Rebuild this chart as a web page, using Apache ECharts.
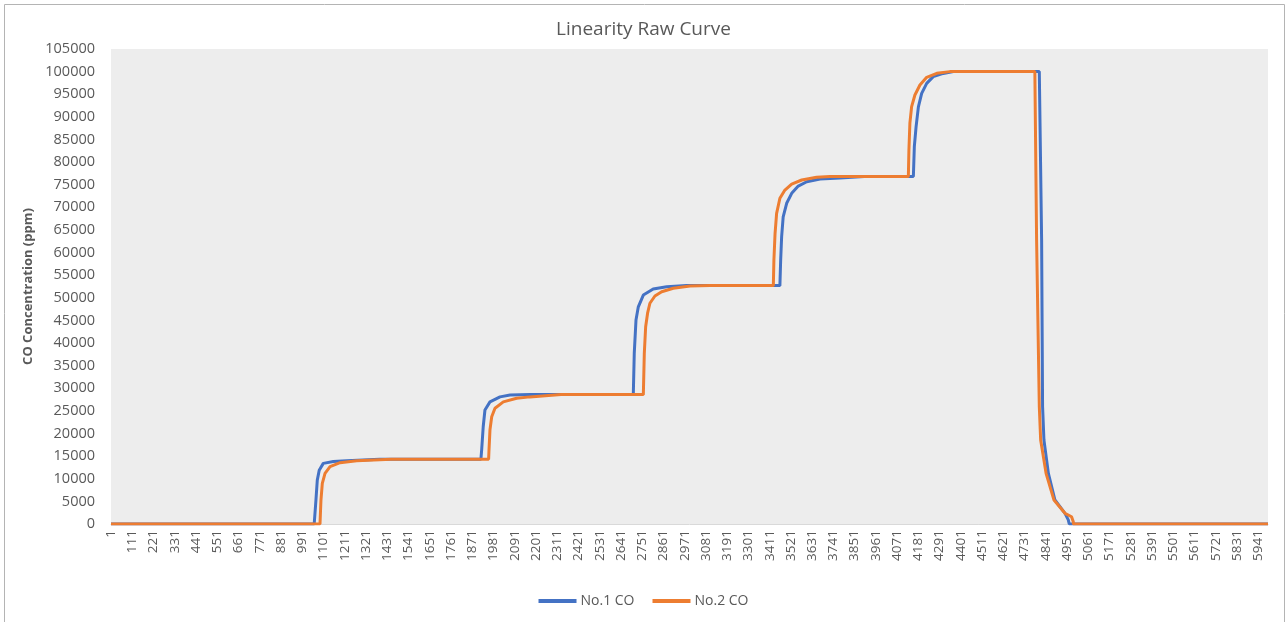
<!DOCTYPE html>
<html>
<head>
<meta charset="utf-8">
<script src="https://cdn.jsdelivr.net/npm/echarts@6/dist/echarts.min.js"></script>
<style>
  html, body { margin: 0; padding: 0; background: #fff; }
  #chart { width: 1287px; height: 622px; }
</style>
</head>
<body>
<div id="chart"></div>
<script>
// sample number (x) and CO concentration in ppm (y)
const no1Sample = [0, 1052, 1061, 1068, 1078, 1099, 1151, 1220, 1390,
  1915, 1919, 1927, 1936, 1962, 2014, 2066, 2170,
  2704, 2709, 2718, 2730, 2756, 2807, 2877, 2980,
  3463, 3467, 3472, 3480, 3498, 3524, 3558, 3602, 3671, 3774, 3900,
  4154, 4159, 4168, 4180, 4197, 4223, 4257, 4309, 4361,
  4806, 4818, 4823, 4830, 4853, 4887, 4939, 4956, 4961, 5990];
const no1CO = [0, 0, 5300, 9700, 11900, 13400, 13800, 14000, 14300,
  14300, 16400, 21500, 25200, 27000, 28100, 28500, 28600,
  28600, 37700, 45100, 48000, 50600, 51950, 52450, 52700,
  52700, 58350, 63500, 67900, 70900, 73100, 74700, 75650, 76250, 76500, 76800,
  76800, 83400, 87800, 92200, 95200, 97400, 98900, 99600, 100000,
  100000, 62780, 25930, 18570, 11200, 5300, 2360, 900, 0, 0];

const no2Sample = [0, 1082, 1087, 1094, 1108, 1134, 1186, 1272, 1450,
  1955, 1957, 1962, 1971, 1988, 2031, 2100, 2169, 2330,
  2756, 2761, 2768, 2778, 2790, 2816, 2851, 2911, 2998, 3101,
  3429, 3432, 3438, 3446, 3463, 3489, 3524, 3576, 3653, 3722,
  4128, 4131, 4136, 4145, 4162, 4188, 4223, 4275, 4343,
  4783, 4792, 4806, 4813, 4841, 4882, 4939, 4973, 4982, 4982, 5990];
const no2CO = [0, 0, 5300, 9000, 11200, 12700, 13550, 14000, 14300,
  14300, 16400, 20800, 23700, 25600, 27000, 27800, 28100, 28600,
  28600, 37700, 43600, 46600, 48800, 50400, 51350, 52100, 52600, 52700,
  52700, 58350, 64260, 68680, 72000, 73830, 75150, 76040, 76640, 76800,
  76800, 82700, 88600, 92250, 94830, 97040, 98740, 99620, 100000,
  100000, 62780, 25930, 18570, 11200, 5300, 2360, 1610, 500, 0, 0];

const seriesNames = ["No.1 CO", "No.2 CO"];

function pairs(xs, ys) {
  return xs.map((x, i) => [x, ys[i]]);
}

const textColor = "#595959";
const font = "'Open Sans', sans-serif";

const chart = echarts.init(document.getElementById("chart"));
chart.setOption({
  animation: false,
  textStyle: { fontFamily: font },
  color: ["#4472c4", "#ed7d31"],
  graphic: [
    {
      type: "rect",
      shape: { x: 4.5, y: 4.5, width: 1280, height: 640 },
      style: { fill: "none", stroke: "#b4b4b4", lineWidth: 1 },
      silent: true,
    },
  ],
  title: {
    text: "Linearity Raw Curve",
    left: "center",
    top: 15,
    textStyle: { fontSize: 19, fontWeight: "normal", color: textColor, fontFamily: font },
  },
  legend: {
    bottom: 9,
    left: "center",
    icon: "rect",
    itemWidth: 38,
    itemHeight: 4,
    itemGap: 18,
    textStyle: { fontSize: 14, color: textColor, fontFamily: font, padding: [0, 0, 0, -1] },
    data: seriesNames,
  },
  grid: {
    left: 111,
    right: 19,
    top: 49,
    bottom: 98,
    show: true,
    backgroundColor: "#ededed",
    borderWidth: 0,
    containLabel: false,
  },
  xAxis: {
    type: "value",
    min: 0,
    max: 5990,
    interval: 110,
    axisLine: { show: true, onZero: false, lineStyle: { color: "#d9d9d9", width: 1 } },
    axisTick: { show: false },
    splitLine: { show: false },
    axisLabel: {
      rotate: 90,
      margin: 6,
      fontSize: 13.5,
      color: textColor,
      fontFamily: font,
      showMaxLabel: false,
      formatter: (v) => (v % 110 === 0 ? String(v + 1) : ""),
    },
  },
  yAxis: {
    type: "value",
    min: 0,
    max: 105000,
    interval: 5000,
    name: "CO Concentration (ppm)",
    nameLocation: "middle",
    nameGap: 74,
    nameTextStyle: { fontSize: 13, fontWeight: "bold", color: textColor, fontFamily: font },
    axisLine: { show: false },
    axisTick: { show: false },
    splitLine: { show: false },
    axisLabel: {
      fontSize: 14.5,
      color: textColor,
      margin: 16,
      fontFamily: font,
      formatter: (v) => String(v),
    },
  },
  series: [
    {
      name: seriesNames[0],
      type: "line",
      showSymbol: false,
      lineStyle: { width: 3 },
      data: pairs(no1Sample, no1CO),
    },
    {
      name: seriesNames[1],
      type: "line",
      showSymbol: false,
      lineStyle: { width: 3 },
      data: pairs(no2Sample, no2CO),
    },
  ],
});
</script>
</body>
</html>
